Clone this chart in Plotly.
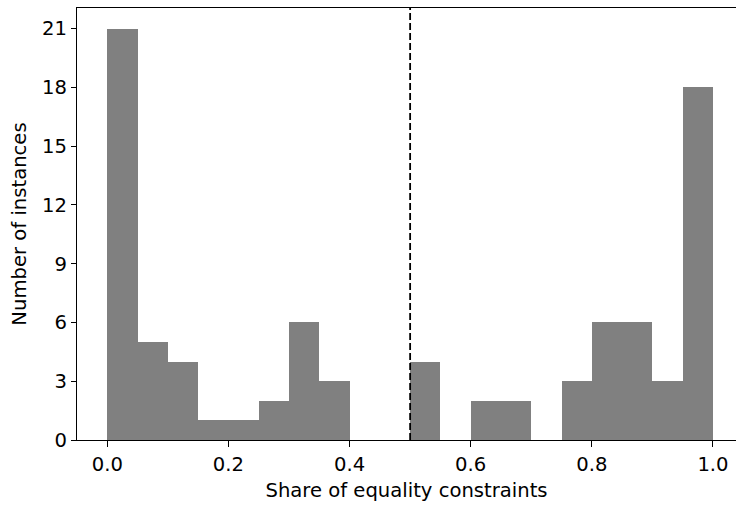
import plotly.graph_objects as go

# Histogram counts per 0.05-wide bin on [0, 1]
bin_left_edges = [round(i * 0.05, 2) for i in range(20)]
counts = [21, 5, 4, 1, 1, 2, 6, 3, 0, 0, 4, 0, 2, 2, 0, 3, 6, 6, 3, 18]
bin_width = 0.05
threshold = 0.5

y_ticks = [0, 3, 6, 9, 12, 15, 18, 21]
x_ticks = [0.0, 0.2, 0.4, 0.6, 0.8, 1.0]

centers = [e + bin_width / 2 for e in bin_left_edges]

fig = go.Figure()
fig.add_trace(go.Bar(
    x=centers, y=counts, width=bin_width,
    marker=dict(color="#808080", line=dict(width=0)),
    showlegend=False,
))

fig.add_shape(type="line", x0=threshold, x1=threshold, y0=0, y1=1,
              xref="x", yref="paper",
              line=dict(color="black", width=1.8, dash="7px,3px"))

font = dict(family="DejaVu Sans", size=19.6, color="black")

fig.update_layout(
    width=736, height=505,
    margin=dict(l=77, r=0, t=8, b=65),
    paper_bgcolor="white", plot_bgcolor="white",
    font=font,
    bargap=0,
    xaxis=dict(
        range=[-0.05, 1.038],
        tickvals=x_ticks, ticktext=[f"{v:.1f}" for v in x_ticks],
        ticks="outside", ticklen=6, tickwidth=1.2, tickcolor="black",
        showline=True, linecolor="black", linewidth=1.3, mirror=True,
        showgrid=False, zeroline=False,
        title=dict(text="Share of equality constraints", font=font, standoff=8),
    ),
    yaxis=dict(
        range=[0, 22.05],
        tickvals=y_ticks,
        ticks="outside", ticklen=5, tickwidth=1.2, tickcolor="black",
        showline=True, linecolor="black", linewidth=1.3,
        showgrid=False, zeroline=False,
        title=dict(text="Number of instances", font=font, standoff=10),
    ),
)

fig.write_html("out.html")
